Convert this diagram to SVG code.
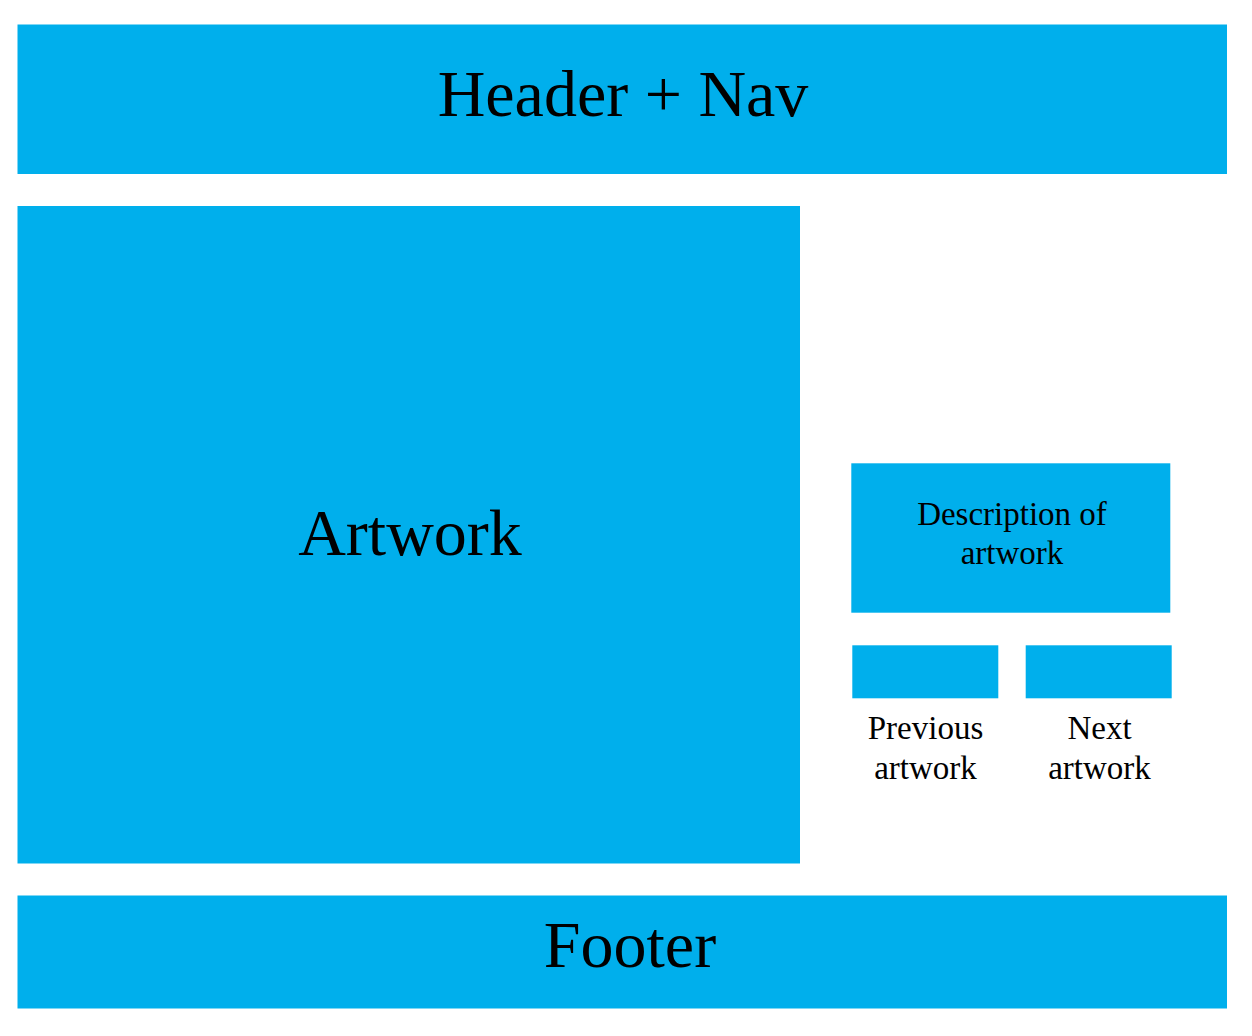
<svg xmlns="http://www.w3.org/2000/svg" width="1252" height="1036" viewBox="0 0 1252 1036">
<style>
.box{fill:#00AFEC;}
.t{font-family:"Liberation Serif","Times New Roman",serif;fill:#000;text-anchor:middle;}
.big{font-size:66px;}
.sm{font-size:33px;}
</style>
<rect width="1252" height="1036" fill="#fff"/>
<g id="header">
<rect class="box" x="17.5" y="24.5" width="1209.5" height="149.5"/>
<text class="t big" x="623" y="116">Header + Nav</text>
</g>
<g id="artwork">
<rect class="box" x="17.5" y="206" width="782.5" height="657.5"/>
<text class="t big" x="410" y="555">Artwork</text>
</g>
<g id="description">
<rect class="box" x="851.3" y="463.3" width="319" height="149.4"/>
<text class="t sm" x="1012" y="525">Description of</text>
<text class="t sm" x="1012" y="564">artwork</text>
</g>
<g id="previous">
<rect class="box" x="852.3" y="645.3" width="146" height="53"/>
<text class="t sm" x="925.5" y="739">Previous</text>
<text class="t sm" x="925.5" y="779">artwork</text>
</g>
<g id="next">
<rect class="box" x="1025.7" y="645.3" width="146" height="53"/>
<text class="t sm" x="1099.5" y="739">Next</text>
<text class="t sm" x="1099.5" y="779">artwork</text>
</g>
<g id="footer">
<rect class="box" x="17.5" y="895.5" width="1209.5" height="113"/>
<text class="t big" x="630" y="967">Footer</text>
</g>
<g id="connectors"></g>
</svg>
